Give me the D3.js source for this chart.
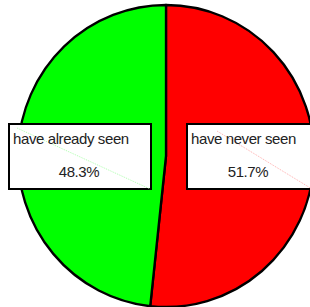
<!DOCTYPE html>
<html>
<head>
<meta charset="utf-8">
<script src="https://cdn.jsdelivr.net/npm/d3@7"></script>
<style>
  body { margin: 0; background: #fff; }
  svg { display: block; }
</style>
</head>
<body>
<div id="chart"></div>
<script>
var width = 310, height = 307;

// data
var labels = ["have never seen", "have already seen"];
var values = [51.7, 48.3];
var colors = ["#ff0000", "#00ff00"];

var cx = 166, cy = 156, ry = 151, rx = 148;

var svg = d3.select("#chart")
  .append("svg")
  .attr("width", width)
  .attr("height", height);

var pie = d3.pie()
  .sort(null)
  .value(d => d);

var arc = d3.arc()
  .innerRadius(0)
  .outerRadius(ry);

var arcs = pie(values);

// slices (slightly squashed horizontally)
var pieG = svg.append("g")
  .attr("transform", `translate(${cx},${cy}) scale(${rx / ry},1)`);

pieG.selectAll("path.slice")
  .data(arcs)
  .enter()
  .append("path")
  .attr("class", "slice")
  .attr("d", arc)
  .attr("fill", (d, i) => colors[i])
  .attr("stroke", "#000")
  .attr("stroke-width", 2.4)
  .attr("stroke-linejoin", "round");

// label boxes
var boxes = [
  { x: 187, y: 124, w: 126, tx: 191, px: 248, line: "#ff9a9a", lx: [217, 312], ly: [131, 189] },
  { x: 9, y: 124, w: 142, tx: 13, px: 79, line: "#9aff9a", lx: [17, 150], ly: [128, 189] }
];

var boxG = svg.append("g").attr("class", "labels");

boxes.forEach(function(b, i) {
  boxG.append("rect")
    .attr("x", b.x)
    .attr("y", b.y)
    .attr("width", b.w)
    .attr("height", 65)
    .attr("fill", "#fff")
    .attr("stroke", "#000")
    .attr("stroke-width", 2);

  boxG.append("line")
    .attr("x1", b.lx[0]).attr("y1", b.ly[0])
    .attr("x2", b.lx[1]).attr("y2", b.ly[1])
    .attr("stroke", b.line)
    .attr("stroke-width", 0.8)
    .attr("stroke-dasharray", "1,1");

  boxG.append("text")
    .attr("x", b.tx)
    .attr("y", 144)
    .style("font-family", "Liberation Sans, Arial, sans-serif")
    .style("font-size", "15px")
    .style("letter-spacing", "-0.4px")
    .style("fill", "#222")
    .text(labels[i]);

  boxG.append("text")
    .attr("x", b.px)
    .attr("y", 177)
    .attr("text-anchor", "middle")
    .style("font-family", "Liberation Sans, Arial, sans-serif")
    .style("font-size", "15px")
    .style("letter-spacing", "-0.4px")
    .style("fill", "#222")
    .text(values[i].toFixed(1) + "%");
});
</script>
</body>
</html>
